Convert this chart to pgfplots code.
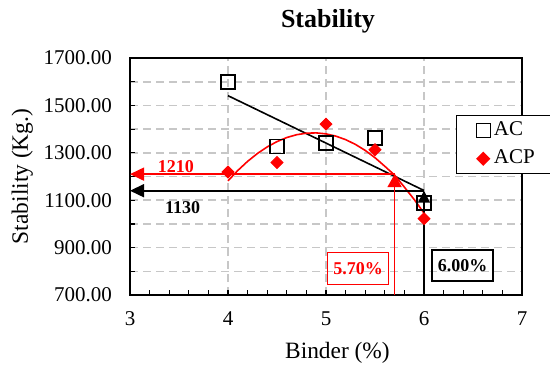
\documentclass[border=0pt]{standalone}
\usepackage{pgfplots}
\pgfplotsset{compat=1.18}
\usepackage{fontspec}
\setmainfont{Liberation Serif}
\usetikzlibrary{arrows.meta}
\pgfplotsset{mylegimg/.style={legend image code/.code={\path (-9pt,0pt) (4pt,0pt); \draw[##1] plot coordinates {(0pt,0pt)};}}}
\begin{document}
\begin{tikzpicture}
\begin{axis}[
 scale only axis, width=196pt, height=118.5pt,
 xmin=3, xmax=7, ymin=700, ymax=1700,
 xtick={3,4,5,6,7}, minor x tick num=4,
 ytick={700,900,1100,1300,1500,1700}, minor y tick num=1,
 scaled y ticks=false,
 xmajorgrids, ymajorgrids, yminorgrids,
 grid style={black!22, line width=0.8pt, dash pattern=on 4pt off 2.5pt},
 minor grid style={black!22, line width=0.8pt, dash pattern=on 4pt off 2.5pt},
 axis line style={line width=1pt},
 tick style={black, line width=0.6pt},
 major tick length=2.5pt, minor tick length=2.5pt,
 tick align=inside, tick pos=left,
 /pgf/number format/assume math mode=true,
 ticklabel style={font=\fontsize{10.5}{12}\selectfont},
 yticklabel={\pgfmathprintnumber[fixed,fixed zerofill,precision=2,1000 sep={}]{\tick}},
 yticklabel style={xshift=-5.5pt},
 xticklabel style={yshift=-4.8pt},
 clip=false,
 legend style={at={(0.8309,0.7595)}, anchor=north west, draw=black, line width=0.75pt,
   inner xsep=4pt, inner ysep=2pt, font=\fontsize{10.5}{12}\selectfont, row sep=3pt,
   nodes={inner sep=1pt, text height=7pt, text depth=2pt}, cells={anchor=west}},
]
\coordinate (sw) at (rel axis cs:0,0);

\addplot[only marks, mark=square, mark size=3.5pt, mark options={black, line width=0.7pt}, mylegimg]
  coordinates {(4,1598) (4.5,1327) (5,1341) (5.5,1362) (6,1089)};
\addlegendentry{AC}
\addplot[only marks, mark=square*, mark size=2.12pt, mark options={red, fill=red, rotate=45}, mylegimg]
  coordinates {(4,1219) (4.5,1259) (5,1421) (5.5,1313) (6,1022)};
\addlegendentry{\makebox[30pt][l]{ACP}}

% trendlines
\addplot[black, line width=0.8pt, forget plot] coordinates {(4,1541) (6,1141)};
\addplot[red, line width=0.8pt, forget plot] coordinates {
 (4,1181.6)(4.1,1225.4)(4.2,1263.9)(4.3,1297.0)(4.4,1324.8)(4.5,1347.3)(4.6,1364.5)
 (4.7,1376.3)(4.8,1382.8)(4.9,1384.0)(5,1379.9)(5.1,1370.4)(5.2,1355.6)(5.3,1335.5)
 (5.4,1310.1)(5.5,1279.3)(5.6,1243.2)(5.7,1205.8)(5.8,1155.1)(5.9,1103.0)(6,1045.6)};

% arrows
\addplot[red, line width=0.8pt, -{Triangle[length=7pt,width=6.5pt]}, forget plot] coordinates {(5.7,1210) (3,1210)};
\addplot[black, line width=0.8pt, -{Triangle[length=7pt,width=6.5pt]}, forget plot] coordinates {(6,1140) (3,1140)};
\addplot[red, line width=0.8pt, -{Triangle[length=6.5pt,width=7pt]}, forget plot] coordinates {(5.7,700) (5.7,1210)};
\addplot[black, line width=0.8pt, -{Triangle[length=6pt,width=6pt]}, forget plot] coordinates {(6,700) (6,1140)};

% annotations
\node[red, font=\bfseries\fontsize{9}{10}\selectfont] at (axis cs:3.469,1241) {1210};
\node[black, font=\bfseries\fontsize{9}{10}\selectfont] at (axis cs:3.538,1070) {1130};
\node[draw=red, line width=0.75pt, text=red, font=\bfseries\fontsize{9}{10}\selectfont,
  minimum width=30.3pt, minimum height=16.2pt, inner sep=0pt] at (axis cs:5.327,812) {5.70\%};
\node[draw=black, line width=1pt, font=\bfseries\fontsize{9}{10}\selectfont,
  minimum width=30.3pt, minimum height=15.5pt, inner sep=0pt] at (axis cs:6.394,826) {6.00\%};

% title and labels
\node[anchor=base, font=\bfseries\fontsize{13}{15}\selectfont] at ([yshift=15pt]axis cs:5.02,1700) {Stability};
\node[anchor=base, font=\fontsize{11.7}{14}\selectfont] at ([yshift=-31.5pt]axis cs:5.117,700) {Binder (\%)};
\node[rotate=90, anchor=base, font=\fontsize{11.7}{14}\selectfont] at ([xshift=-51pt]rel axis cs:0,0.5) {Stability (Kg.)};
\end{axis}
\pgfresetboundingbox
\path[use as bounding box] ([shift={(-65pt,-34.5pt)}]sw) rectangle ++(275pt,182pt);
\end{tikzpicture}
\end{document}
